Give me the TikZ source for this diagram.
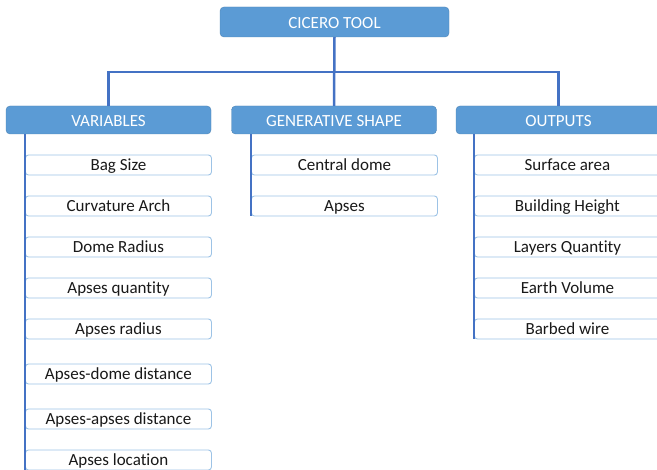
\documentclass[tikz,border=0pt]{standalone}
\usepackage{fontspec}
\setmainfont{Carlito}[Ligatures=CommonOff]
\usetikzlibrary{positioning}
\definecolor{headblue}{HTML}{5B9BD5}
\definecolor{lineblue}{HTML}{4472C4}
\definecolor{itemline}{HTML}{9DC3E6}
\tikzset{
	head/.style = {draw = headblue!85!black, fill = headblue, text = white,
		rounded corners = 4pt, minimum width = 205pt, minimum height = 28pt,
		inner sep = 0pt, text height = 13pt, text depth = 0pt,
		font = \fontsize{17}{19}\selectfont},
	item/.style = {draw = itemline, fill = white, line width = 0.9pt,
		rounded corners = 3pt, minimum width = 186pt, minimum height = 20pt,
		inner sep = 0pt, anchor = west, text = black!90,
		text height = 10.5pt, text depth = 0pt,
		font = \fontsize{17}{19}\selectfont},
	trunk/.style = {lineblue, line width = 2.5pt}
}

\begin{document}
\begin{tikzpicture}[x = 1pt, y = -1pt]
			\useasboundingbox (0, 0) rectangle (657, 470);
			\clip (0, 0) rectangle (657, 470);
			% headers
			\node [head, minimum width = 229pt, minimum height = 30pt] (tool) at (334.5, 22) {CICERO TOOL};
			\node [head] (var) at (108.5, 120) {VARIABLES};
			\node [head] (gen) at (334, 120) {GENERATIVE SHAPE};
			\node [head] (out) at (558.5, 120) {OUTPUTS};
			\coordinate (bus) at (334.5, 72);
			% tree
			\draw[trunk] (tool.south) -- (gen.north);
			\draw[trunk] (var.north) |- (bus) -| (out.north);
			% variables
			\node [item] (v1) at (25, 165) {Bag Size};
			\node [item] (v2) at (25, 206) {Curvature Arch};
			\node [item] (v3) at (25, 247) {Dome Radius};
			\node [item] (v4) at (25, 288) {Apses quantity};
			\node [item] (v5) at (25, 329) {Apses radius};
			\node [item] (v6) at (25, 374) {Apses-dome distance};
			\node [item] (v7) at (25, 419) {Apses-apses distance};
			\node [item] (v8) at (25, 460) {Apses location};
			% generative shape
			\node [item] (g1) at (251, 165) {Central dome};
			\node [item] (g2) at (251, 206) {Apses};
			% outputs
			\node [item] (o1) at (474, 165) {Surface area};
			\node [item] (o2) at (474, 206) {Building Height};
			\node [item] (o3) at (474, 247) {Layers Quantity};
			\node [item] (o4) at (474, 288) {Earth Volume};
			\node [item] (o5) at (474, 329) {Barbed wire};
			% side lines
			\draw[trunk] (var.south -| v1.west) -- (v8.south west);
			\draw[trunk] (gen.south -| g1.west) -- (g2.south west);
			\draw[trunk] (out.south -| o1.west) -- (o5.south west);
		\end{tikzpicture}
\end{document}
